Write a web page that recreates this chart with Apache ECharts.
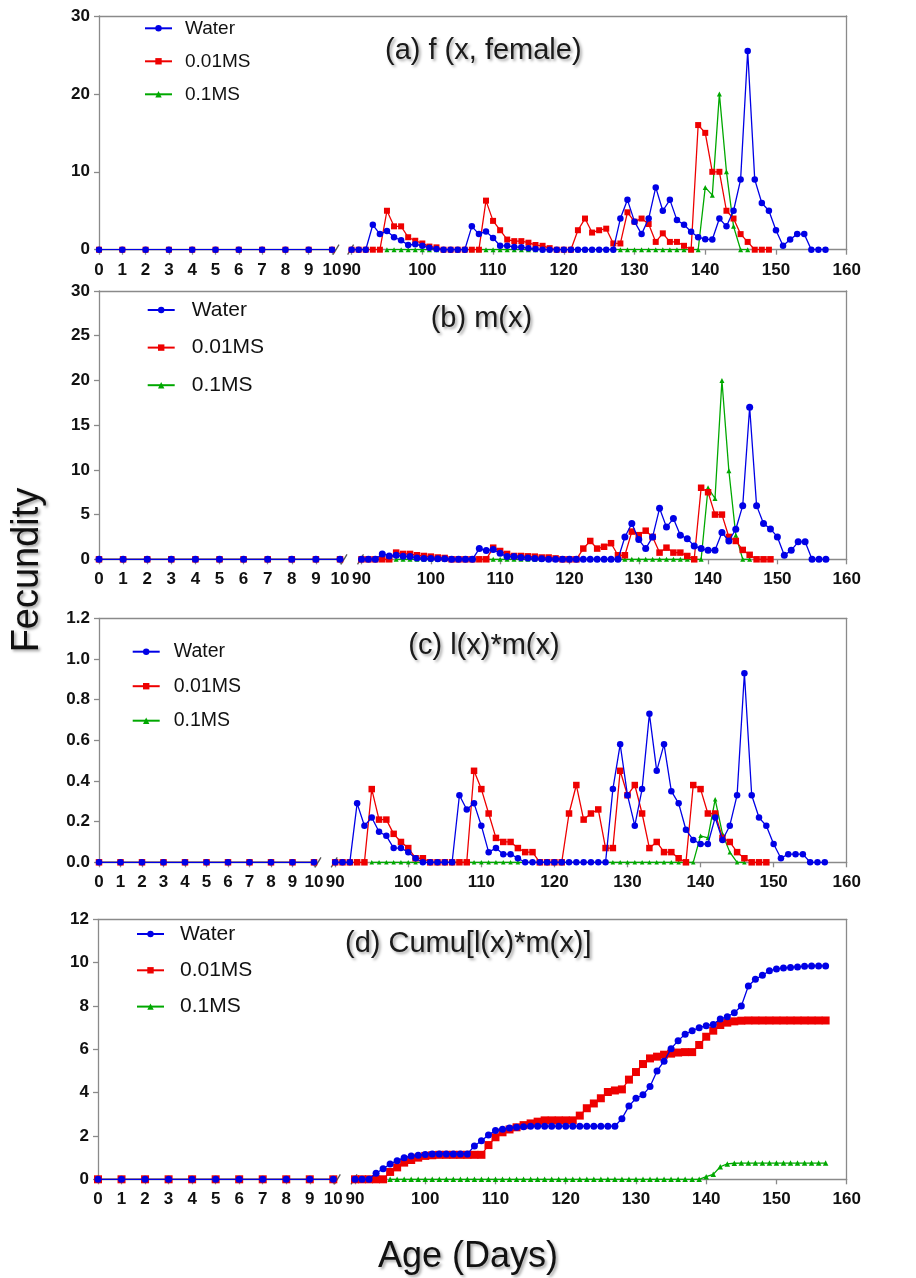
<!DOCTYPE html>
<html>
<head>
<meta charset="utf-8">
<script src="https://cdn.jsdelivr.net/npm/echarts@6/dist/echarts.min.js"></script>
<style>
  html, body { margin: 0; padding: 0; background: #fff; }
  #chart { width: 916px; height: 1278px; }
</style>
</head>
<body>
<div id="chart"></div>
<script>
// days 0-10 (before the axis break), all zero
const earlyDays = [0, 1, 2, 3, 4, 5, 6, 7, 8, 9, 10]
const earlyZero = [0, 0, 0, 0, 0, 0, 0, 0, 0, 0, 0]

// days 90-157 (after the axis break)
const ageDays = [
  90, 91, 92, 93, 94, 95, 96, 97, 98, 99,
  100, 101, 102, 103, 104, 105, 106, 107, 108, 109,
  110, 111, 112, 113, 114, 115, 116, 117, 118, 119,
  120, 121, 122, 123, 124, 125, 126, 127, 128, 129,
  130, 131, 132, 133, 134, 135, 136, 137, 138, 139,
  140, 141, 142, 143, 144, 145, 146, 147, 148, 149,
  150, 151, 152, 153, 154, 155, 156, 157
]

const seriesNames = ['Water', '0.01MS', '0.1MS']
const panelTitles = ['(a) f (x, female)', '(b) m(x)', '(c) l(x)*m(x)', '(d) Cumu[l(x)*m(x)]']

// (a) f(x, female)
const waterA = [
  0, 0, 0, 3.2, 2.0, 2.4, 1.6, 1.2, 0.6, 0.7,
  0.5, 0.25, 0.1, 0, 0, 0, 0, 3.0, 2.0, 2.35,
  1.5, 0.5, 0.5, 0.35, 0.3, 0.2, 0.1, 0, 0, 0,
  0, 0, 0, 0, 0, 0, 0, 0, 4.0, 6.4,
  3.6, 2.0, 4.0, 8.0, 5.0, 6.4, 3.8, 3.2, 2.3, 1.6,
  1.35, 1.3, 4.0, 3.0, 5.0, 9.0, 25.5, 9.0, 6.0, 5.0,
  2.5, 0.5, 1.3, 2.0, 2.0, 0, 0, 0
]
const redA = [
  0, 0, 0, 0, 0, 5.0, 3.0, 3.0, 1.6, 1.15,
  0.8, 0.4, 0.3, 0, 0, 0, 0, 0, 0, 6.3,
  3.7, 2.5, 1.3, 1.1, 1.1, 0.9, 0.6, 0.5, 0.2, 0,
  0, 0, 2.5, 4.0, 2.2, 2.5, 2.7, 0.8, 0.8, 4.8,
  3.6, 4.0, 3.3, 1.0, 2.1, 1.0, 1.0, 0.5, 0, 16.0,
  15.0, 10.0, 10.0, 5.0, 4.0, 2.0, 1.0, 0, 0, 0,
  null, null, null, null, null, null, null, null
]
const greenA = [
  null, null, null, null, null, 0, 0, 0, 0, 0,
  0, 0, 0, 0, 0, 0, 0, 0, 0, 0,
  0, 0, 0, 0, 0, 0, 0, 0, 0, 0,
  0, 0, 0, 0, 0, 0, 0, 0, 0, 0,
  0, 0, 0, 0, 0, 0, 0, 0, 0, 0,
  8.0, 7.0, 20.0, 10.0, 3.0, 0, 0, null, null, null,
  null, null, null, null, null, null, null, null
]

// (b) m(x)
const waterB = [
  0, 0, 0, 0.6, 0.37, 0.45, 0.33, 0.3, 0.15, 0.1,
  0.1, 0.05, 0.05, 0, 0, 0, 0, 1.2, 0.97, 1.1,
  0.67, 0.3, 0.3, 0.2, 0.15, 0.1, 0.05, 0, 0, 0,
  0, 0, 0, 0, 0, 0, 0, 0, 2.5, 4.0,
  2.2, 1.2, 2.5, 5.7, 3.6, 4.55, 2.7, 2.3, 1.5, 1.2,
  1.0, 1.0, 3.0, 2.05, 3.36, 6.0, 17.0, 6.0, 4.0, 3.4,
  2.5, 0.45, 1.0, 1.95, 1.95, 0, 0, 0
]
const redB = [
  0, 0, 0, 0, 0, 0.75, 0.6, 0.6, 0.45, 0.37,
  0.3, 0.2, 0.15, 0, 0, 0, 0, 0, 0, 1.3,
  0.93, 0.6, 0.37, 0.37, 0.33, 0.3, 0.2, 0.2, 0.1, 0,
  0, 0, 1.2, 2.05, 1.2, 1.4, 1.8, 0.45, 0.45, 3.1,
  2.7, 3.2, 2.5, 0.75, 1.3, 0.75, 0.75, 0.37, 0, 8.0,
  7.5, 5.0, 5.0, 2.5, 2.05, 1.05, 0.5, 0, 0, 0,
  null, null, null, null, null, null, null, null
]
const greenB = [
  null, null, null, null, null, 0, 0, 0, 0, 0,
  0, 0, 0, 0, 0, 0, 0, 0, 0, 0,
  0, 0, 0, 0, 0, 0, 0, 0, 0, 0,
  0, 0, 0, 0, 0, 0, 0, 0, 0, 0,
  0, 0, 0, 0, 0, 0, 0, 0, 0, 0,
  8.0, 6.8, 20.0, 9.9, 2.7, 0, 0, null, null, null,
  null, null, null, null, null, null, null, null
]

// (c) l(x)*m(x)
const waterC = [
  0, 0, 0, 0.29, 0.18, 0.22, 0.15, 0.13, 0.07, 0.07,
  0.05, 0.02, 0, 0, 0, 0, 0, 0.33, 0.26, 0.29,
  0.18, 0.05, 0.07, 0.04, 0.04, 0.02, 0, 0, 0, 0,
  0, 0, 0, 0, 0, 0, 0, 0, 0.36, 0.58,
  0.33, 0.18, 0.36, 0.73, 0.45, 0.58, 0.35, 0.29, 0.16, 0.11,
  0.09, 0.09, 0.22, 0.11, 0.18, 0.33, 0.93, 0.33, 0.22, 0.18,
  0.09, 0.02, 0.04, 0.04, 0.04, 0, 0, 0
]
const redC = [
  0, 0, 0, 0, 0, 0.36, 0.21, 0.21, 0.14, 0.1,
  0.07, 0.02, 0.02, 0, 0, 0, 0, 0, 0, 0.45,
  0.36, 0.24, 0.12, 0.1, 0.1, 0.07, 0.05, 0.05, 0, 0,
  0, 0, 0.24, 0.38, 0.21, 0.24, 0.26, 0.07, 0.07, 0.45,
  0.33, 0.38, 0.24, 0.07, 0.1, 0.05, 0.05, 0.02, 0, 0.38,
  0.36, 0.24, 0.24, 0.12, 0.1, 0.05, 0.02, 0, 0, 0,
  null, null, null, null, null, null, null, null
]
const greenC = [
  null, null, null, null, null, 0, 0, 0, 0, 0,
  0, 0, 0, 0, 0, 0, 0, 0, 0, 0,
  0, 0, 0, 0, 0, 0, 0, 0, 0, 0,
  0, 0, 0, 0, 0, 0, 0, 0, 0, 0,
  0, 0, 0, 0, 0, 0, 0, 0, 0, 0,
  0.13, 0.12, 0.31, 0.14, 0.05, 0, 0, null, null, null,
  null, null, null, null, null, null, null, null
]

// (d) Cumu[l(x)*m(x)]
const waterD = [
  0, 0, 0, 0.28, 0.49, 0.71, 0.86, 1.0, 1.07, 1.11,
  1.15, 1.17, 1.17, 1.17, 1.17, 1.17, 1.17, 1.54, 1.78, 2.05,
  2.25, 2.31, 2.37, 2.4, 2.43, 2.45, 2.45, 2.45, 2.45, 2.45,
  2.45, 2.45, 2.45, 2.45, 2.45, 2.45, 2.45, 2.45, 2.8, 3.38,
  3.74, 3.9, 4.28, 5.0, 5.45, 6.03, 6.4, 6.69, 6.86, 7.0,
  7.09, 7.15, 7.4, 7.5, 7.69, 8.0, 8.92, 9.23, 9.42, 9.62,
  9.71, 9.75, 9.78, 9.8, 9.83, 9.85, 9.85, 9.85
]
const redD = [
  0, 0, 0, 0, 0, 0.34, 0.55, 0.77, 0.89, 1.0,
  1.08, 1.11, 1.13, 1.13, 1.13, 1.13, 1.13, 1.13, 1.13, 1.58,
  1.94, 2.17, 2.3, 2.4, 2.5, 2.58, 2.66, 2.72, 2.72, 2.72,
  2.72, 2.72, 2.94, 3.28, 3.5, 3.74, 4.03, 4.1, 4.15, 4.6,
  4.95, 5.32, 5.58, 5.66, 5.75, 5.8, 5.85, 5.87, 5.87, 6.2,
  6.58, 6.86, 7.12, 7.23, 7.29, 7.32, 7.33, 7.33, 7.33, 7.33,
  7.33, 7.33, 7.33, 7.33, 7.33, 7.33, 7.33, 7.33
]
const greenD = [
  null, null, null, null, null, 0, 0, 0, 0, 0,
  0, 0, 0, 0, 0, 0, 0, 0, 0, 0,
  0, 0, 0, 0, 0, 0, 0, 0, 0, 0,
  0, 0, 0, 0, 0, 0, 0, 0, 0, 0,
  0, 0, 0, 0, 0, 0, 0, 0, 0, 0,
  0.12, 0.23, 0.58, 0.71, 0.74, 0.75, 0.75, 0.75, 0.75, 0.75,
  0.75, 0.75, 0.75, 0.75, 0.75, 0.75, 0.75, 0.75
]

const panelData = [
  [waterA, redA, greenA],
  [waterB, redB, greenB],
  [waterC, redC, greenC],
  [waterD, redD, greenD]
]

const colors = ['#0000e6', '#ee0000', '#00a800']
const symbols = ['circle', 'rect', 'triangle']
const axisGray = '#8a8a8a'
const FONT = "'Liberation Sans', Arial, sans-serif"

// placement of each panel (pixels)
const panels = [
  { top: 16, zero: 249.7, left: 99, x10: 332, x90: 351.6, yMax: 30, yStep: 10, dec: 0,
    titleX: 385, titleY: 50.5, legX: 144, legY: 28.3, legStep: 33, legFont: 19, legPad: 8, sizes: [6.5, 6, 5] },
  { top: 291, zero: 559.3, left: 99, x10: 340, x90: 361.5, yMax: 30, yStep: 5, dec: 0,
    titleX: 430.7, titleY: 319, legX: 146.7, legY: 310, legStep: 37.6, legFont: 21, legPad: 12, sizes: [7, 6.5, 5] },
  { top: 618.3, zero: 862.3, left: 99, x10: 314, x90: 335.2, yMax: 1.2, yStep: 0.2, dec: 1,
    titleX: 408.3, titleY: 646, legX: 131.7, legY: 651.7, legStep: 34.5, legFont: 19.5, legPad: 9, sizes: [6.5, 6.5, 4.5] },
  { top: 919.3, zero: 1179.3, left: 98, x10: 333.3, x90: 355, yMax: 12, yStep: 2, dec: 0,
    titleX: 345, titleY: 944, legX: 136, legY: 934, legStep: 36.3, legFont: 21, legPad: 11, sizes: [7, 8, 5.5] }
]
const plotRight = 846.7

const pairs = (xs, ys) => xs.map((x, i) => [x, ys[i]]).filter(p => p[1] !== null)

const grid = [], xAxis = [], yAxis = [], series = [], legend = [], title = [], graphic = []

const labelStyle = { color: '#111', fontWeight: 'bold', fontSize: 17, fontFamily: FONT }

panels.forEach((p, i) => {
  const h = p.zero - p.top
  grid.push({ left: p.left, top: p.top, width: p.x10 - p.left, height: h })
  grid.push({ left: p.x90, top: p.top, width: plotRight - p.x90, height: h })
  grid.push({ left: p.left, top: p.top, width: plotRight - p.left, height: h })
  const g = i * 3

  const xCommon = {
    type: 'value',
    axisLine: { lineStyle: { color: axisGray, width: 1.3 } },
    axisTick: { length: 5, lineStyle: { color: axisGray, width: 1.3 } },
    axisLabel: Object.assign({ margin: 12 }, labelStyle),
    splitLine: { show: false }
  }
  xAxis.push(Object.assign({ gridIndex: g, min: 0, max: 10, interval: 1 }, xCommon))
  xAxis.push(Object.assign({ gridIndex: g + 1, min: 90, max: 160, interval: 10 }, xCommon))
  // frame: top border
  xAxis.push({ gridIndex: g + 2, type: 'value', position: 'top', min: 0, max: 1,
    axisLine: { onZero: false, lineStyle: { color: axisGray, width: 1.3 } }, axisTick: { show: false },
    axisLabel: { show: false }, splitLine: { show: false } })

  yAxis.push({
    gridIndex: g, type: 'value', min: 0, max: p.yMax, interval: p.yStep,
    axisLine: { show: true, lineStyle: { color: axisGray, width: 1.3 } },
    axisTick: { show: true, length: 5, lineStyle: { color: axisGray, width: 1.3 } },
    axisLabel: Object.assign({ margin: 9, formatter: v => v.toFixed(p.dec) }, labelStyle),
    splitLine: { show: false }
  })
  yAxis.push({ gridIndex: g + 1, type: 'value', min: 0, max: p.yMax, show: false })
  // frame: right border
  yAxis.push({ gridIndex: g + 2, type: 'value', position: 'right', min: 0, max: 1,
    axisLine: { show: true, onZero: false, lineStyle: { color: axisGray, width: 1.3 } }, axisTick: { show: false },
    axisLabel: { show: false }, splitLine: { show: false } })

  // green first, blue drawn on top
  for (let k = 2; k >= 0; k--) {
    const common = {
      name: seriesNames[k],
      type: 'line',
      symbol: symbols[k],
      symbolSize: p.sizes[k],
      showAllSymbol: true,
      color: colors[k],
      lineStyle: { width: 1.3, color: colors[k] },
      itemStyle: { color: colors[k] },
      z: 3 - k
    }
    series.push(Object.assign({ xAxisIndex: g, yAxisIndex: g, data: pairs(earlyDays, earlyZero) }, common))
    series.push(Object.assign({ xAxisIndex: g + 1, yAxisIndex: g + 1, data: pairs(ageDays, panelData[i][k]) }, common))
  }

  const lh = Math.round(p.legFont)
  legend.push({
    orient: 'vertical',
    left: p.legX,
    top: p.legY - lh / 2,
    padding: 0,
    itemWidth: 27,
    itemHeight: 8,
    itemGap: p.legStep - lh,
    selectedMode: false,
    data: seriesNames,
    textStyle: { fontSize: p.legFont, lineHeight: lh, fontFamily: FONT, color: '#111', padding: [0, 0, 0, p.legPad] }
  })

  title.push({
    text: panelTitles[i],
    left: p.titleX,
    top: p.titleY - 15,
    padding: 0,
    textStyle: {
      fontSize: 29, fontWeight: 'normal', fontFamily: FONT, color: '#1a1a1a', lineHeight: 30,
      textShadowColor: 'rgba(0,0,0,0.35)', textShadowBlur: 3, textShadowOffsetX: 2, textShadowOffsetY: 2
    }
  })

  // axis break: short extension of the left axis line and two slashes
  graphic.push({ type: 'line', shape: { x1: p.x10, y1: p.zero, x2: p.x10 + 4, y2: p.zero },
    style: { stroke: axisGray, lineWidth: 1.3 } })
  graphic.push({ type: 'line', shape: { x1: p.x10 + 1, y1: p.zero + 5, x2: p.x10 + 7, y2: p.zero - 5 },
    style: { stroke: '#555', lineWidth: 1.3 } })
  graphic.push({ type: 'line', shape: { x1: p.x90 - 4, y1: p.zero + 5, x2: p.x90 + 2, y2: p.zero - 5 },
    style: { stroke: '#555', lineWidth: 1.3 } })
})

graphic.push({
  type: 'text', x: 28, y: 570, rotation: Math.PI / 2,
  style: { text: 'Fecundity', font: "38px 'Liberation Sans', Arial, sans-serif", fill: '#111',
    align: 'center', verticalAlign: 'middle',
    textShadowColor: 'rgba(0,0,0,0.35)', textShadowBlur: 3, textShadowOffsetX: 2, textShadowOffsetY: 2 }
})
graphic.push({
  type: 'text', x: 468, y: 1257,
  style: { text: 'Age (Days)', font: "36px 'Liberation Sans', Arial, sans-serif", fill: '#111',
    align: 'center', verticalAlign: 'middle',
    textShadowColor: 'rgba(0,0,0,0.35)', textShadowBlur: 3, textShadowOffsetX: 2, textShadowOffsetY: 2 }
})

const chart = echarts.init(document.getElementById('chart'))
chart.setOption({
  animation: false,
  backgroundColor: '#fff',
  title: title,
  legend: legend,
  grid: grid,
  xAxis: xAxis,
  yAxis: yAxis,
  series: series,
  graphic: graphic
})
</script>
</body>
</html>
